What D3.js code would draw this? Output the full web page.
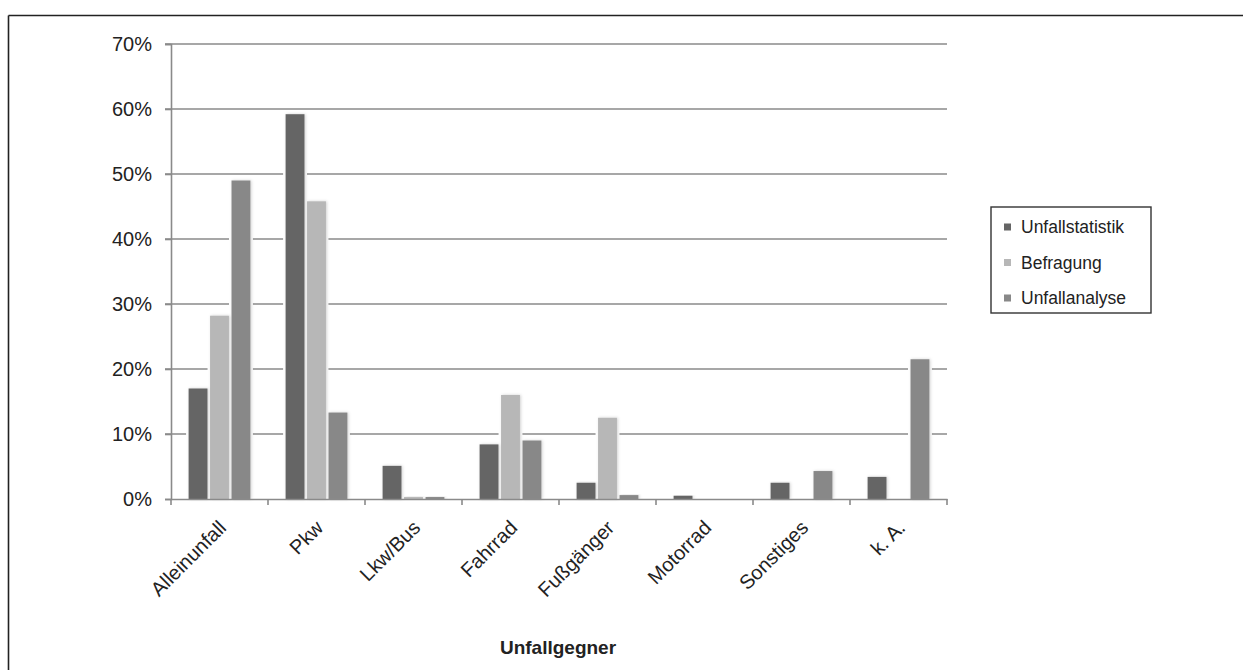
<!DOCTYPE html>
<html><head><meta charset="utf-8">
<script src="https://cdn.jsdelivr.net/npm/d3@7/dist/d3.min.js"></script>
<style>
html,body{margin:0;padding:0;background:#fff;}
svg{display:block;font-family:"Liberation Sans",Arial,sans-serif;}
</style></head>
<body>
<svg id="c" width="1243" height="670"></svg>
<script>
const categories = ["Alleinunfall","Pkw","Lkw/Bus","Fahrrad","Fußgänger","Motorrad","Sonstiges","k. A."];
const seriesNames = ["Unfallstatistik","Befragung","Unfallanalyse"];
const unfallstatistik = [17.0, 59.2, 5.1, 8.4, 2.5, 0.5, 2.5, 3.4];
const befragung      = [28.2, 45.8, 0.3, 16.0, 12.5, 0.0, 0.0, 0.0];
const unfallanalyse  = [49.0, 13.3, 0.3, 9.0, 0.6, 0.0, 4.3, 21.5];
const yTicks = [0,10,20,30,40,50,60,70];
const colors = ["#656565","#b7b7b7","#888888"];
const xTitle = "Unfallgegner";

const seriesData = [unfallstatistik, befragung, unfallanalyse];
const svg = d3.select("#c");

// frame
svg.append("line").attr("x1",8.5).attr("x2",1243).attr("y1",15.5).attr("y2",15.5).attr("stroke","#222").attr("stroke-width",1.6);
svg.append("line").attr("x1",8.5).attr("x2",8.5).attr("y1",15.5).attr("y2",670).attr("stroke","#222").attr("stroke-width",1.6);

const pLeft = 171, pRight = 947, pTop = 44, pBottom = 499;
const x = d3.scaleBand().domain(categories).range([pLeft, pRight]).padding(0);
const x1 = d3.scaleBand().domain(seriesNames).range([0, x.bandwidth()]).paddingInner(0.12).paddingOuter(0.82);
const y = d3.scaleLinear().domain([0,70]).range([pBottom, pTop]);

const defs = svg.append("defs");
const f = defs.append("filter").attr("id","sh").attr("x","-30%").attr("y","-10%").attr("width","160%").attr("height","120%");
f.append("feDropShadow").attr("dx",1).attr("dy",0).attr("stdDeviation",1.5).attr("flood-color","#000").attr("flood-opacity",0.18);

// gridlines
svg.append("g").selectAll("line").data(yTicks.filter(d=>d>0)).join("line")
  .attr("x1",pLeft-6).attr("x2",pRight).attr("y1",d=>y(d)).attr("y2",d=>y(d))
  .attr("stroke","#8a8a8a").attr("stroke-width",1.6);

// y axis
const yAxis = svg.append("g").attr("transform",`translate(${pLeft},0)`)
  .call(d3.axisLeft(y).tickValues(yTicks).tickFormat(d=>d+"%").tickSize(6).tickPadding(13));
yAxis.select(".domain").attr("stroke","#8a8a8a").attr("stroke-width",1.6);
yAxis.selectAll(".tick line").attr("stroke","#8a8a8a").attr("stroke-width",1.6);
yAxis.selectAll("text").attr("font-size",20).attr("fill","#222").attr("font-family","Liberation Sans, Arial, sans-serif");

// bars
const groups = svg.append("g").selectAll("g").data(categories).join("g")
  .attr("transform",d=>`translate(${x(d)},0)`);
groups.each(function(cat, ci){
  const g = d3.select(this);
  const vals = seriesNames.map((s,si)=>({s, si, v: seriesData[si][ci]}));
  g.selectAll("rect.halo").data(vals.filter(d=>d.v>0)).join("rect").attr("class","halo")
    .attr("x",d=>x1(d.s)-2.5).attr("width",x1.bandwidth()+5)
    .attr("y",d=>y(d.v)-2.5).attr("height",d=>pBottom-y(d.v)+2.5)
    .attr("fill","#fff");
  g.selectAll("rect.bar").data(vals.filter(d=>d.v>0)).join("rect").attr("class","bar")
    .attr("x",d=>x1(d.s)).attr("width",x1.bandwidth())
    .attr("y",d=>y(d.v)).attr("height",d=>pBottom-y(d.v))
    .attr("fill",d=>colors[d.si]).attr("filter","url(#sh)");
});

// x axis
const xAxis = svg.append("g").attr("transform",`translate(0,${pBottom})`)
  .call(d3.axisBottom(x).tickSize(0).tickFormat(d=>d));
xAxis.select(".domain").attr("stroke","#8a8a8a").attr("stroke-width",1.6);
const bounds = categories.map(c=>x(c)).concat([pRight]);
xAxis.selectAll("line.bt").data(bounds).join("line").attr("class","bt")
  .attr("x1",d=>d).attr("x2",d=>d).attr("y1",0).attr("y2",6)
  .attr("stroke","#8a8a8a").attr("stroke-width",1.6);
xAxis.selectAll(".tick text")
  .attr("font-size",20).attr("fill","#222").attr("font-family","Liberation Sans, Arial, sans-serif")
  .attr("text-anchor","end").attr("dy","0").attr("y",0)
  .attr("transform","translate(8,30) rotate(-45)");

// x title
svg.append("text").attr("x",558).attr("y",654).attr("text-anchor","middle")
  .attr("font-size",19).attr("font-weight","bold").attr("fill","#222").text(xTitle);

// legend
const lg = svg.append("g");
lg.append("rect").attr("x",991).attr("y",207).attr("width",160).attr("height",106)
  .attr("fill","#fff").attr("stroke","#333").attr("stroke-width",1.4);
const items = lg.selectAll("g.it").data(seriesNames).join("g").attr("class","it")
  .attr("transform",(d,i)=>`translate(1004,${227 + i*35.5})`);
items.append("rect").attr("x",0).attr("y",-3.5).attr("width",7).attr("height",7).attr("fill",(d,i)=>colors[i]);
items.append("text").attr("x",17).attr("dy","0.35em").attr("font-size",17.5).attr("fill","#222").text(d=>d);
</script>
</body></html>
